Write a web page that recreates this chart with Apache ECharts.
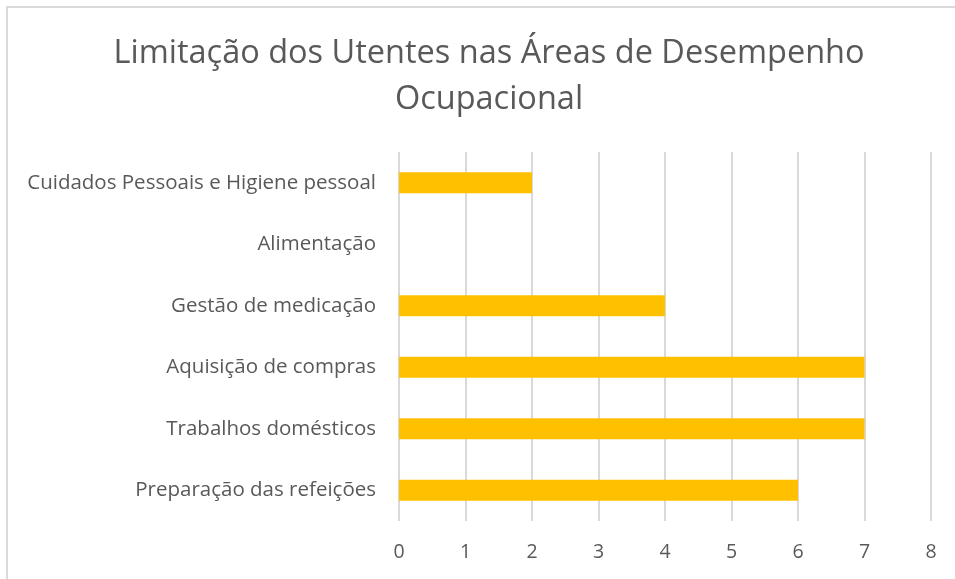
<!DOCTYPE html>
<html>
<head>
    <meta charset="utf-8">
    <title>Limitação dos Utentes</title>
    <script src="https://cdn.jsdelivr.net/npm/echarts@6/dist/echarts.min.js"></script>
    <style>
        * { margin: 0; padding: 0; }
        body { background: #fff; }
    </style>
</head>
<body>
    <div id="main" style="width: 955px; height: 579px;"></div>
    <script type="text/javascript">
        // categorias (de baixo para cima, como no eixo)
        var categorias = [
            'Preparação das refeições',
            'Trabalhos domésticos',
            'Aquisição de compras',
            'Gestão de medicação',
            'Alimentação',
            'Cuidados Pessoais e Higiene pessoal'
        ];
        var valores = [6, 7, 7, 4, 0, 2];
        var ticks = [0, 1, 2, 3, 4, 5, 6, 7, 8];

        var myChart = echarts.init(document.getElementById('main'));
        var font = 'Open Sans';

        var option = {
            backgroundColor: '#fff',
            animation: false,
            graphic: [{
                type: 'rect',
                shape: { x: 7, y: 7, width: 980, height: 600 },
                style: { fill: null, stroke: '#d9d9d9', lineWidth: 2 }
            }],
            title: {
                text: 'Limitação dos Utentes nas Áreas de Desempenho\nOcupacional',
                left: 484,
                textAlign: 'center',
                top: 26,
                textStyle: {
                    fontFamily: font,
                    fontSize: 32.5,
                    fontWeight: 'normal',
                    color: '#595959',
                    lineHeight: 46
                }
            },
            grid: {
                left: 399,
                right: 24,
                top: 152,
                bottom: 58,
                containLabel: false
            },
            xAxis: {
                type: 'value',
                min: ticks[0],
                max: ticks[ticks.length - 1],
                interval: 1,
                axisLine: { show: false },
                axisTick: { show: false },
                splitLine: { lineStyle: { color: '#d9d9d9', width: 2 } },
                axisLabel: {
                    margin: 21,
                    fontFamily: font,
                    fontSize: 19.5,
                    color: '#595959'
                }
            },
            yAxis: {
                type: 'category',
                data: categorias,
                axisLine: { show: false },
                axisTick: { show: false },
                axisLabel: {
                    margin: 23,
                    fontFamily: font,
                    fontSize: 20.5,
                    color: '#595959'
                }
            },
            series: [{
                type: 'bar',
                data: valores,
                barWidth: 21,
                itemStyle: { color: '#ffc000' }
            }]
        };

        myChart.setOption(option);
    </script>
</body>
</html>
